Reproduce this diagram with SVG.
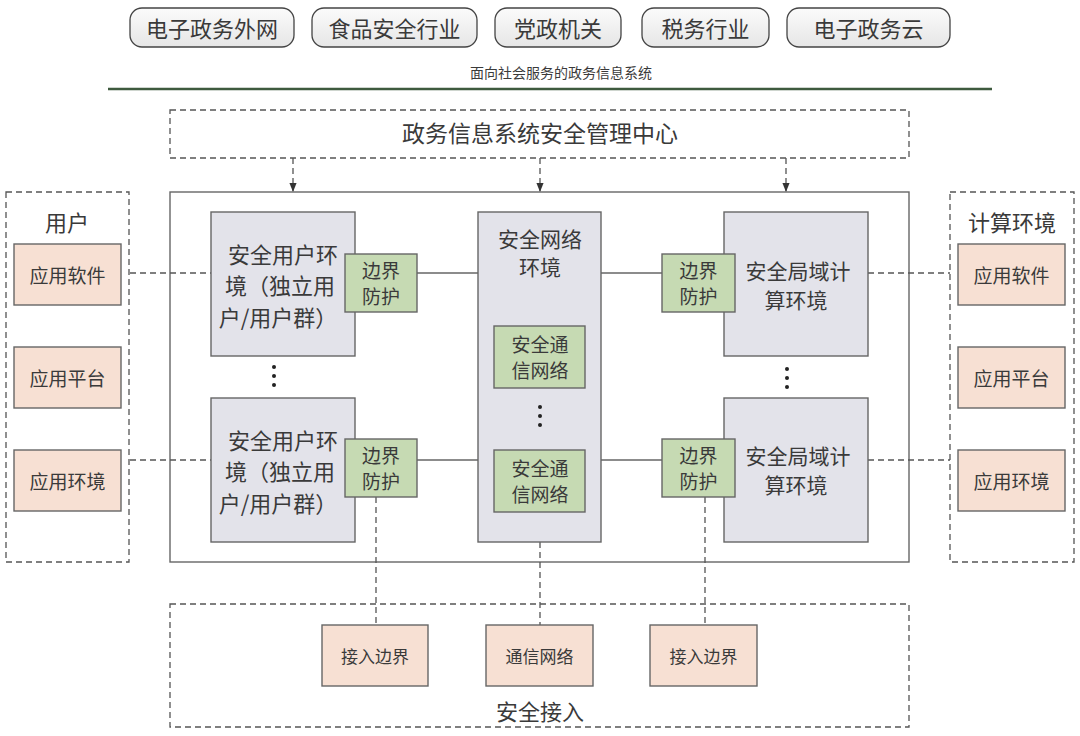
<svg xmlns="http://www.w3.org/2000/svg" width="1080" height="736" viewBox="0 0 1080 736">
<defs>
<linearGradient id="pill" x1="0" y1="0" x2="0" y2="1">
<stop offset="0" stop-color="#fbfbfb"/><stop offset="1" stop-color="#e6e6e6"/>
</linearGradient>
<marker id="arr" viewBox="0 0 10 10" refX="9" refY="5" markerWidth="7" markerHeight="7" orient="auto">
<path d="M0,1 L10,5 L0,9 z" fill="#333"/>
</marker>
</defs>
<style>
text{font-family:"Noto Sans CJK SC","Liberation Sans",sans-serif;fill:#3a3a3a;text-anchor:middle;dominant-baseline:central}
.pill{fill:url(#pill);stroke:#444;stroke-width:1.3}
.dbox{fill:none;stroke:#555;stroke-width:1.3;stroke-dasharray:6,4}
.main{fill:#fff;stroke:#666;stroke-width:1.4}
.env{fill:#e3e3ea;stroke:#666;stroke-width:1.4}
.grn{fill:#c6dab3;stroke:#666;stroke-width:1.4}
.peach{fill:#f7e0d3;stroke:#666;stroke-width:1.4}
.sl{stroke:#666;stroke-width:1.4;fill:none}
.dl{stroke:#555;stroke-width:1.3;stroke-dasharray:6,4;fill:none}
.t22{font-size:22px}
.t21{font-size:21px}
.t19{font-size:19px}
.t17{font-size:17px}
</style>
<rect width="1080" height="736" fill="#fff"/>

<g id="top-pills">
<g id="pill1"><rect class="pill" x="130" y="8" width="164" height="39" rx="12"/><text class="t22" x="212" y="27">电子政务外网</text></g>
<g id="pill2"><rect class="pill" x="312" y="8" width="165" height="39" rx="12"/><text class="t22" x="394.5" y="27">食品安全行业</text></g>
<g id="pill3"><rect class="pill" x="495" y="8" width="126" height="39" rx="12"/><text class="t22" x="558" y="27">党政机关</text></g>
<g id="pill4"><rect class="pill" x="642" y="8" width="127" height="39" rx="12"/><text class="t22" x="705.5" y="27">税务行业</text></g>
<g id="pill5"><rect class="pill" x="787" y="8" width="163" height="39" rx="12"/><text class="t22" x="868.5" y="27">电子政务云</text></g>
</g>

<g id="title">
<text x="561" y="72" style="font-size:14px">面向社会服务的政务信息系统</text>
<line x1="108" y1="89" x2="992" y2="89" stroke="#3e5a3e" stroke-width="2.5"/>
</g>

<g id="mgmt">
<rect class="dbox" x="170" y="110" width="739" height="48"/>
<text x="540" y="132" style="font-size:23px">政务信息系统安全管理中心</text>
</g>

<g id="main-box"><rect class="main" x="170" y="192" width="739" height="370"/></g>

<g id="connectors">
<line class="dl" x1="293" y1="158" x2="293" y2="191" marker-end="url(#arr)"/>
<line class="dl" x1="540" y1="158" x2="540" y2="191" marker-end="url(#arr)"/>
<line class="dl" x1="786" y1="158" x2="786" y2="191" marker-end="url(#arr)"/>
<line class="dl" x1="130" y1="273" x2="211" y2="273"/>
<line class="dl" x1="130" y1="460" x2="211" y2="460"/>
<line class="dl" x1="868" y1="273" x2="950" y2="273"/>
<line class="dl" x1="868" y1="460" x2="950" y2="460"/>
<line class="sl" x1="417" y1="273" x2="478" y2="273"/>
<line class="sl" x1="417" y1="460" x2="478" y2="460"/>
<line class="sl" x1="601" y1="273" x2="662" y2="273"/>
<line class="sl" x1="601" y1="460" x2="662" y2="460"/>
<line class="dl" x1="376" y1="497" x2="376" y2="625"/>
<line class="dl" x1="540" y1="542" x2="540" y2="625"/>
<line class="dl" x1="705" y1="497" x2="705" y2="625"/>
</g>

<g id="users">
<rect class="dbox" x="6" y="192" width="123" height="370"/>
<text class="t22" x="67" y="221">用户</text>
<g id="u-soft"><rect class="peach" x="14" y="244" width="107" height="61"/><text class="t19" x="67.5" y="274">应用软件</text></g>
<g id="u-plat"><rect class="peach" x="14" y="347" width="107" height="61"/><text class="t19" x="67.5" y="377">应用平台</text></g>
<g id="u-env"><rect class="peach" x="14" y="450" width="107" height="61"/><text class="t19" x="67.5" y="480">应用环境</text></g>
</g>

<g id="compute">
<rect class="dbox" x="950" y="192" width="124" height="370"/>
<text class="t22" x="1012" y="221">计算环境</text>
<g id="c-soft"><rect class="peach" x="958" y="244" width="107" height="61"/><text class="t19" x="1011.5" y="274">应用软件</text></g>
<g id="c-plat"><rect class="peach" x="958" y="347" width="107" height="61"/><text class="t19" x="1011.5" y="377">应用平台</text></g>
<g id="c-env"><rect class="peach" x="958" y="450" width="107" height="61"/><text class="t19" x="1011.5" y="480">应用环境</text></g>
</g>

<g id="user-env-1">
<rect class="env" x="211" y="212" width="144" height="144"/>
<text class="t22" x="283" y="253">安全用户环</text>
<text class="t22" x="280" y="284">境（独立用</text>
<text class="t22" x="278" y="316">户/用户群）</text>
</g>
<g id="user-env-2">
<rect class="env" x="211" y="398" width="144" height="144"/>
<text class="t22" x="283" y="439">安全用户环</text>
<text class="t22" x="280" y="470">境（独立用</text>
<text class="t22" x="278" y="502">户/用户群）</text>
</g>
<g id="bp-l1"><rect class="grn" x="345" y="254" width="72" height="58"/><text class="t19" x="381" y="269">边界</text><text class="t19" x="381" y="295">防护</text></g>
<g id="bp-l2"><rect class="grn" x="345" y="439" width="72" height="58"/><text class="t19" x="381" y="454">边界</text><text class="t19" x="381" y="480">防护</text></g>
<g id="dots-l" fill="#222"><circle cx="274" cy="367" r="2"/><circle cx="274" cy="376" r="2"/><circle cx="274" cy="385" r="2"/></g>

<g id="net-env">
<rect class="env" x="478" y="212" width="123" height="330"/>
<text class="t21" x="540" y="238">安全网络</text>
<text class="t21" x="540" y="266">环境</text>
</g>
<g id="comm-1"><rect class="grn" x="494" y="326" width="91" height="62"/><text class="t19" x="540" y="343">安全通</text><text class="t19" x="540" y="369">信网络</text></g>
<g id="comm-2"><rect class="grn" x="494" y="450" width="91" height="62"/><text class="t19" x="540" y="467">安全通</text><text class="t19" x="540" y="493">信网络</text></g>
<g id="dots-m" fill="#222"><circle cx="540" cy="407" r="2"/><circle cx="540" cy="416" r="2"/><circle cx="540" cy="425" r="2"/></g>

<g id="comp-env-1">
<rect class="env" x="724" y="212" width="144" height="144"/>
<text class="t21" x="798" y="270">安全局域计</text>
<text class="t21" x="796" y="299">算环境</text>
</g>
<g id="comp-env-2">
<rect class="env" x="724" y="398" width="144" height="144"/>
<text class="t21" x="798" y="455">安全局域计</text>
<text class="t21" x="796" y="484">算环境</text>
</g>
<g id="bp-r1"><rect class="grn" x="662" y="254" width="73" height="58"/><text class="t19" x="698.5" y="269">边界</text><text class="t19" x="698.5" y="295">防护</text></g>
<g id="bp-r2"><rect class="grn" x="662" y="439" width="73" height="58"/><text class="t19" x="698.5" y="454">边界</text><text class="t19" x="698.5" y="480">防护</text></g>
<g id="dots-r" fill="#222"><circle cx="787" cy="369" r="2"/><circle cx="787" cy="378" r="2"/><circle cx="787" cy="387" r="2"/></g>

<g id="access">
<rect class="dbox" x="170" y="604" width="739" height="123"/>
<text class="t22" x="540" y="710">安全接入</text>
<g id="a-l"><rect class="peach" x="322" y="625" width="106" height="61"/><text class="t17" x="375" y="655">接入边界</text></g>
<g id="a-m"><rect class="peach" x="486" y="625" width="107" height="61"/><text class="t17" x="539.5" y="655">通信网络</text></g>
<g id="a-r"><rect class="peach" x="650" y="625" width="107" height="61"/><text class="t17" x="703.5" y="655">接入边界</text></g>
</g>
</svg>
